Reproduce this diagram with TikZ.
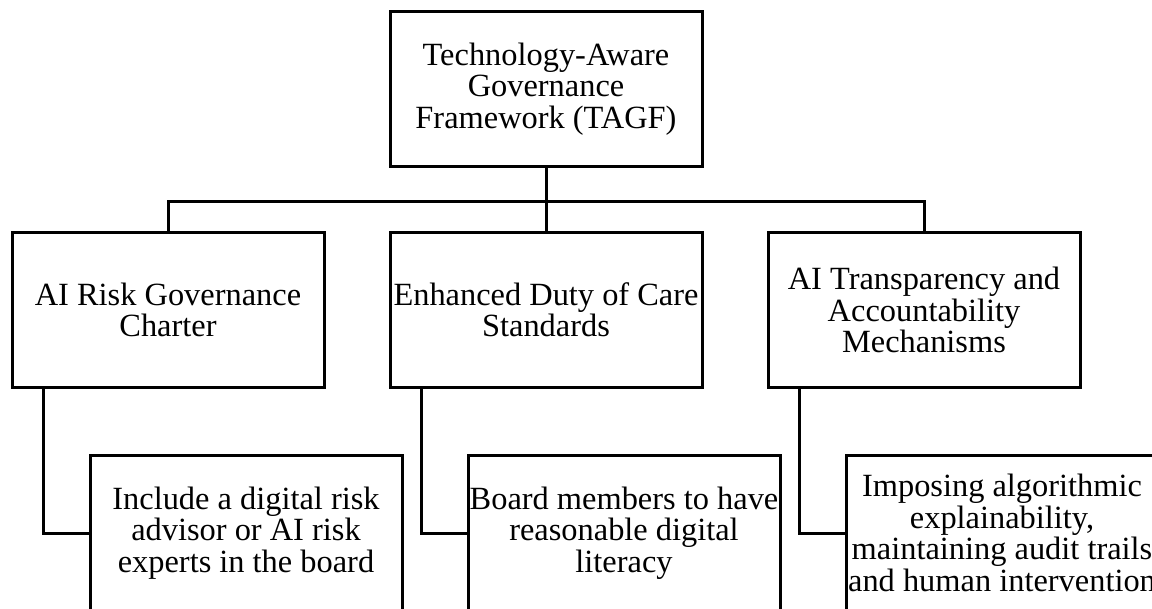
\documentclass[tikz,border=0pt]{standalone}
\usepackage{fontspec}
\setmainfont{Liberation Serif}
\usetikzlibrary{positioning}

\begin{document}
\begin{tikzpicture}[line width=2.25pt, node distance=47.25pt,
                    every node/.style={font=\fontsize{24.3}{23.6}\selectfont}]
  \tikzstyle{block}=[draw=black,fill=white,align=center,inner sep=1pt,
                     minimum width=234pt,minimum height=116.25pt]

  \useasboundingbox (0,0) rectangle (864pt,-456.75pt);
  \clip (0,0) rectangle (864pt,-456.75pt);

  \node[block] (tagf) at (409.5pt,-66.75pt) {Technology-Aware\\Governance\\Framework (TAGF)};
  \node[block] (care)    [below=of tagf] {Enhanced Duty of Care\\Standards};
  \node[block] (charter) [left=of care]  {AI Risk Governance\\Charter};
  \node[block] (mech)    [right=of care] {AI Transparency and\\Accountability\\Mechanisms};

  \node[block] (advisor)  [below=48.75pt of charter, xshift=58.5pt] {Include a digital risk\\advisor or AI risk\\experts in the board};
  \node[block] (literacy) [below=48.75pt of care, xshift=58.5pt]    {Board members to have\\reasonable digital\\literacy};
  \node[block] (audit)    [below=48.75pt of mech, xshift=58.5pt]    {Imposing algorithmic\\explainability,\\maintaining audit trails\\and human intervention};

  \coordinate (bus) at ([yshift=-25.5pt]tagf.south);

  \draw (tagf.south) -- (care.north);
  \draw (charter.north) |- (bus) -| (mech.north);

  \draw ([xshift=25pt]charter.south west) |- (advisor.west);
  \draw ([xshift=25pt]care.south west)    |- (literacy.west);
  \draw ([xshift=25pt]mech.south west)    |- (audit.west);
\end{tikzpicture}
\end{document}
